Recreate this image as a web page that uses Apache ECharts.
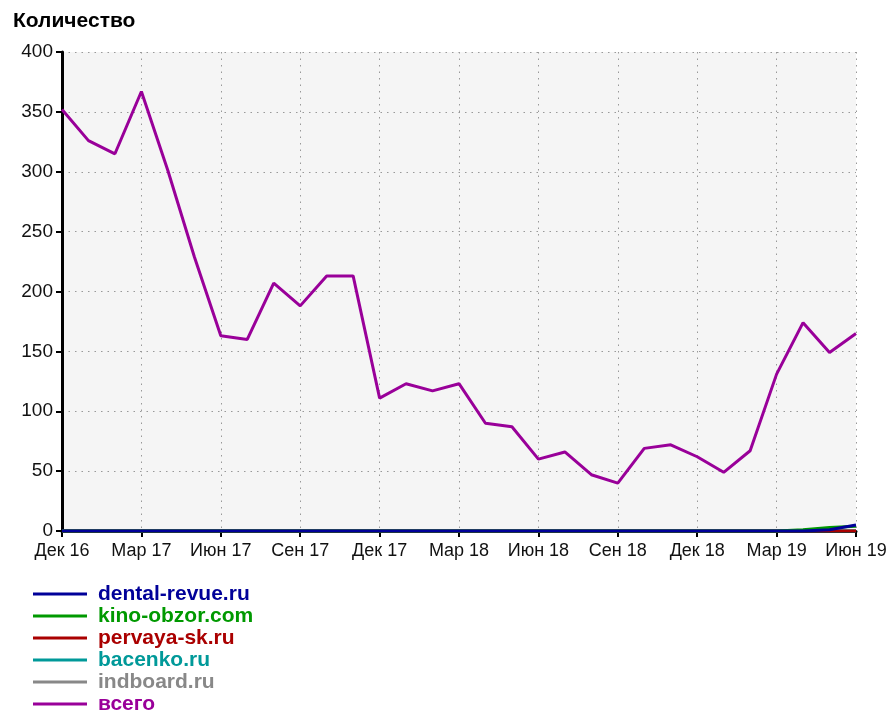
<!DOCTYPE html>
<html>
<head>
<meta charset="utf-8">
<script src="https://cdn.jsdelivr.net/npm/echarts@6/dist/echarts.min.js"></script>
<style>
html,body{margin:0;padding:0;background:#fff;}
#chart{width:892px;height:713px;}
</style>
</head>
<body>
<div id="chart"></div>
<script>
var months = ['Дек 16','Янв 17','Фев 17','Мар 17','Апр 17','Май 17','Июн 17','Июл 17','Авг 17','Сен 17','Окт 17','Ноя 17',
  'Дек 17','Янв 18','Фев 18','Мар 18','Апр 18','Май 18','Июн 18','Июл 18','Авг 18','Сен 18','Окт 18','Ноя 18',
  'Дек 18','Янв 19','Фев 19','Мар 19','Апр 19','Май 19','Июн 19'];
var dentalRevue = [0,0,0,0,0,0,0,0,0,0,0,0,0,0,0,0,0,0,0,0,0,0,0,0,0,0,0,0,0,1,5];
var kinoObzor   = [0,0,0,0,0,0,0,0,0,0,0,0,0,0,0,0,0,0,0,0,0,0,0,0,0,0,0,0,1,3,4];
var pervayaSk   = [0,0,0,0,0,0,0,0,0,0,0,0,0,0,0,0,0,0,0,0,0,0,0,0,0,0,0,0,0,0,0];
var bacenko     = [0,0,0,0,0,0,0,0,0,0,0,0,0,0,0,0,0,0,0,0,0,0,0,0,0,0,0,0,0,0,0];
var indboard    = [0,0,0,0,0,0,0,0,0,0,0,0,0,0,0,0,0,0,0,0,0,0,0,0,0,0,0,0,0,0,0];
var vsego       = [352,326,315,367,301,229,163,160,207,188,213,213,111,123,117,123,90,87,60,66,47,40,69,72,62,49,67,131,174,149,165];

var names = ['dental-revue.ru','kino-obzor.com','pervaya-sk.ru','bacenko.ru','indboard.ru','всего'];
var colors = ['#000099','#009900','#aa0000','#009999','#888888','#990099'];
var datas = [dentalRevue, kinoObzor, pervayaSk, bacenko, indboard, vsego];

var chart = echarts.init(document.getElementById('chart'));
var drawOrder = [4,3,2,1,0,5];
var series = drawOrder.map(function(i){
  return {
    name: names[i], type: 'line', data: datas[i], symbol: 'none',
    lineStyle: {width: 3, color: colors[i]}, itemStyle: {color: colors[i]},
    z: 3 + drawOrder.indexOf(i)
  };
});
chart.setOption({
  animation: false,
  backgroundColor: '#ffffff',
  title: {
    text: 'Количество', left: 8, top: 6,
    textStyle: {fontFamily: 'Liberation Sans, Arial, sans-serif', fontSize: 21, fontWeight: 'bold', color: '#000'}
  },
  legend: {
    orient: 'vertical', left: 28, top: 578, height: 160,
    icon: 'rect', itemWidth: 54, itemHeight: 3, itemGap: 0,
    textStyle: {fontFamily: 'Liberation Sans, Arial, sans-serif', fontSize: 21, fontWeight: 'bold', lineHeight: 22, padding: [0,0,0,6]},
    data: names.map(function(n,i){ return {name: n, textStyle: {color: colors[i]}}; })
  },
  grid: {
    left: 62, right: 36, top: 52, bottom: 182,
    show: true, backgroundColor: '#f5f5f5', borderWidth: 0
  },
  xAxis: {
    type: 'category', data: months, boundaryGap: false, offset: 2,
    axisLine: {lineStyle: {color: '#000', width: 3}},
    axisTick: {show: true, interval: 2, length: 6, lineStyle: {color: '#000', width: 2}},
    axisLabel: {interval: 2, margin: 9, color: '#111', fontSize: 18, fontFamily: 'Liberation Sans, Arial, sans-serif'},
    splitLine: {show: true, interval: 2, lineStyle: {color: '#999', width: 1, type: [1.5, 5]}}
  },
  yAxis: {
    type: 'value', min: 0, max: 400, interval: 50,
    axisLine: {show: true, lineStyle: {color: '#000', width: 3}},
    axisTick: {show: true, length: 6, lineStyle: {color: '#000', width: 2}},
    axisLabel: {margin: 9, color: '#111', fontSize: 19, fontFamily: 'Liberation Sans, Arial, sans-serif'},
    splitLine: {show: true, lineStyle: {color: '#999', width: 1, type: [1.5, 5]}}
  },
  series: series
});
</script>
</body>
</html>
